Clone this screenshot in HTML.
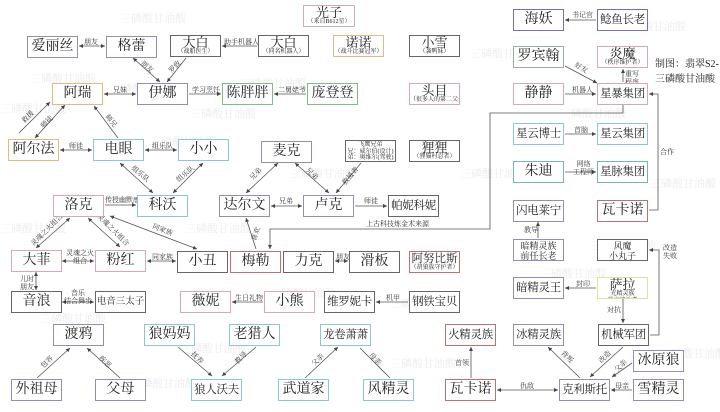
<!DOCTYPE html>
<html><head><meta charset="utf-8">
<style>
body{margin:0;width:720px;height:412px;background:#fff;position:relative;overflow:hidden;font-family:"Liberation Serif","Noto Serif CJK SC","Noto Sans CJK SC",serif;}
.n{position:absolute;box-sizing:border-box;height:22px;width:51px;border:1px solid #777;background:#fff;text-align:center;font-size:14px;line-height:20px;color:#222;white-space:nowrap;overflow:hidden}
.f4{font-size:11.5px;letter-spacing:-0.3px}
.s{line-height:12px;font-size:13px;padding-top:1px}
.s i{display:block;font-style:normal;font-size:6px;line-height:7px}
.t{line-height:10px;font-size:9px;padding-top:1px}
.l{position:absolute;font-size:7px;color:#333;white-space:nowrap;line-height:8px;text-align:center}
.w{position:absolute;font-size:11px;color:#ececec;white-space:nowrap}
svg{position:absolute;left:0;top:0}
.pk{border-color:#d8a8b8}.pu{border-color:#9a8ab8}.gr{border-color:#666}.cy{border-color:#8cc8d0}.gn{border-color:#7cc07c}.or{border-color:#e8b880}.rd{border-color:#c07070}.bl{border-color:#7070c0}.tl{border-color:#70b8b0}.yl{border-color:#e0e0a0}
</style></head><body>
<div class="w" style="left:120px;top:10px">三磷酸甘油酸</div>
<div class="w" style="left:30px;top:70px">三磷酸甘油酸</div>
<div class="w" style="left:240px;top:75px">三磷酸甘油酸</div>
<div class="w" style="left:190px;top:105px">三磷酸甘油酸</div>
<div class="w" style="left:150px;top:133px">三磷酸甘油酸</div>
<div class="w" style="left:290px;top:165px">三磷酸甘油酸</div>
<div class="w" style="left:110px;top:80px">三磷酸甘油酸</div>
<div class="w" style="left:0px;top:100px">三磷酸甘油酸</div>
<div class="w" style="left:50px;top:190px">三磷酸甘油酸</div>
<div class="w" style="left:0px;top:220px">三磷酸甘油酸</div>
<div class="w" style="left:40px;top:310px">三磷酸甘油酸</div>
<div class="w" style="left:185px;top:220px">三磷酸甘油酸</div>
<div class="w" style="left:270px;top:285px">三磷酸甘油酸</div>
<div class="w" style="left:180px;top:340px">三磷酸甘油酸</div>
<div class="w" style="left:130px;top:375px">三磷酸甘油酸</div>
<div class="w" style="left:470px;top:45px">三磷酸甘油酸</div>
<div class="w" style="left:560px;top:105px">三磷酸甘油酸</div>
<div class="w" style="left:460px;top:165px">三磷酸甘油酸</div>
<div class="w" style="left:540px;top:265px">三磷酸甘油酸</div>
<div class="w" style="left:590px;top:237px">三磷酸甘油酸</div>
<div class="w" style="left:650px;top:175px">三磷酸甘油酸</div>
<div class="w" style="left:390px;top:295px">三磷酸甘油酸</div>
<div class="w" style="left:390px;top:355px">三磷酸甘油酸</div>
<div class="w" style="left:660px;top:345px">三磷酸甘油酸</div>
<div class="w" style="left:620px;top:18px">三磷酸甘油酸</div>

<svg width="720" height="412" viewBox="0 0 720 412">
<defs><marker id="a" markerWidth="6" markerHeight="6" refX="5" refY="3" orient="auto"><path d="M0,0.5 L5,3 L0,5.5z" fill="#444"/></marker>
<marker id="b" markerWidth="6" markerHeight="6" refX="1" refY="3" orient="auto"><path d="M6,0.5 L1,3 L6,5.5z" fill="#444"/></marker></defs>
<g stroke="#555" stroke-width="0.8" fill="none" marker-end="url(#a)">
<path d="M79,46H105" marker-start="url(#b)"/>
<path d="M257,46H222"/>
<path d="M133,58L160,82" marker-start="url(#b)"/>
<path d="M186,58L167,82"/>
<path d="M104,94H136" marker-start="url(#b)"/>
<path d="M189,94H221"/>
<path d="M306,94H274"/>
<path d="M19,133L50,102"/>
<path d="M35,138L65,105" marker-start="url(#b)"/>
<path d="M118,138L94,106"/>
<path d="M60,150H92" marker-start="url(#b)"/>
<path d="M145,150H177" marker-start="url(#b)"/>
<path d="M120,163L153,193" marker-start="url(#b)"/>
<path d="M203,163L173,193" marker-start="url(#b)"/>
<path d="M105,205H136"/>
<path d="M278,163L246,193" marker-start="url(#b)"/>
<path d="M295,163L329,193" marker-start="url(#b)"/>
<path d="M361,163L336,193"/>
<path d="M271,206H302" marker-start="url(#b)"/>
<path d="M355,206H387"/>
<path d="M256,249L246,218"/>
<path d="M623,105V113H490V229H270V249"/>
<path d="M70,218L36,248" marker-start="url(#b)"/>
<path d="M88,218L120,247" marker-start="url(#b)"/>
<path d="M110,216L197,249" marker-start="url(#b)"/>
<path d="M62,261H94" marker-start="url(#b)"/>
<path d="M147,261H176" marker-start="url(#b)"/>
<path d="M36,272V290" marker-start="url(#b)"/>
<path d="M62,302H94" marker-start="url(#b)"/>
<path d="M335,261H348" marker-start="url(#b)"/>
<path d="M263,302H232"/>
<path d="M408,302H376"/>
<path d="M37,378L70,348"/>
<path d="M120,378L87,348"/>
<path d="M178,347L212,376"/>
<path d="M256,347L222,376"/>
<path d="M305,378L338,347"/>
<path d="M390,378L360,348" marker-end="none"/>
<path d="M471,378V347"/>
<path d="M497,390H558" marker-start="url(#b)"/>
<path d="M580,378L548,347"/>
<path d="M623,347L590,377"/>
<path d="M632,363L612,377"/>
<path d="M632,390H611"/>
<path d="M596,288H565"/>
<path d="M623,299V323"/>
<path d="M650,335H659V250H649"/>
<path d="M538,238V222"/>
<path d="M596,20H565"/>
<path d="M565,66L597,83"/>
<path d="M623,82V69"/>
<path d="M565,94H596"/>
<path d="M565,134H596"/>
<path d="M565,172H596"/>
<path d="M649,210H658V94H649"/>
</g></svg>

<div class="l" style="left:84px;top:38px">朋友</div>
<div class="l" style="left:224px;top:38px">助手机器人</div>
<div class="l" style="left:140px;top:63px;transform:rotate(40deg)">朋友</div>
<div class="l" style="left:168px;top:63px;transform:rotate(-45deg)">罗致</div>
<div class="l" style="left:113px;top:86px">兄妹</div>
<div class="l" style="left:192px;top:86px">学习烹饪</div>
<div class="l" style="left:278px;top:86px">二舅姥爷</div>
<div class="l" style="left:21px;top:113px;transform:rotate(-45deg)">救援</div>
<div class="l" style="left:40px;top:118px;transform:rotate(-45deg)">师徒</div>
<div class="l" style="left:104px;top:117px;transform:rotate(50deg)">师兄</div>
<div class="l" style="left:69px;top:142px">师徒</div>
<div class="l" style="left:152px;top:142px">组乐队</div>
<div class="l" style="left:130px;top:170px;transform:rotate(40deg)">组乐队</div>
<div class="l" style="left:175px;top:170px;transform:rotate(-40deg)">组乐队</div>
<div class="l" style="left:105px;top:196px">传授幽默感</div>
<div class="l" style="left:249px;top:170px;transform:rotate(-45deg)">兄弟</div>
<div class="l" style="left:305px;top:170px;transform:rotate(45deg)">兄弟</div>
<div class="l" style="left:340px;top:172px;transform:rotate(-50deg)">救援者</div>
<div class="l" style="left:279px;top:197px">兄弟</div>
<div class="l" style="left:364px;top:197px">师徒</div>
<div class="l" style="left:249px;top:230px;transform:rotate(-70deg)">喜欢</div>
<div class="l" style="left:366px;top:220px">上古科技炼金术来源</div>
<div class="l" style="left:26px;top:226px;transform:rotate(-45deg)">灵魂之火组合</div>
<div class="l" style="left:92px;top:226px;transform:rotate(45deg)">灵魂之火组合</div>
<div class="l" style="left:152px;top:226px;transform:rotate(22deg)">同家族</div>
<div class="l" style="left:66px;top:249px">灵魂之火<br>组合</div>
<div class="l" style="left:152px;top:253px">同家族</div>
<div class="l" style="left:20px;top:275px">儿时<br>朋友</div>
<div class="l" style="left:64px;top:289px">音乐<br>结合舞步</div>
<div class="l" style="left:336px;top:253px">朋友</div>
<div class="l" style="left:235px;top:294px">生日礼物</div>
<div class="l" style="left:386px;top:294px">机甲</div>
<div class="l" style="left:40px;top:358px;transform:rotate(-45deg)">包容</div>
<div class="l" style="left:98px;top:358px;transform:rotate(45deg)">疾恶</div>
<div class="l" style="left:190px;top:354px;transform:rotate(45deg)">抚养</div>
<div class="l" style="left:234px;top:354px;transform:rotate(-45deg)">教导</div>
<div class="l" style="left:311px;top:356px;transform:rotate(-45deg)">父亲</div>
<div class="l" style="left:368px;top:355px;transform:rotate(45deg)">母亲</div>
<div class="l" style="left:455px;top:359px">首领</div>
<div class="l" style="left:520px;top:382px">仇敌</div>
<div class="l" style="left:560px;top:353px;transform:rotate(45deg)">背叛</div>
<div class="l" style="left:598px;top:353px;transform:rotate(-45deg)">改造</div>
<div class="l" style="left:614px;top:362px;transform:rotate(-45deg)">父亲</div>
<div class="l" style="left:615px;top:382px">母亲</div>
<div class="l" style="left:576px;top:280px">封印</div>
<div class="l" style="left:607px;top:306px">对抗</div>
<div class="l" style="left:663px;top:244px">改造<br>失败</div>
<div class="l" style="left:524px;top:226px">教导</div>
<div class="l" style="left:572px;top:11px">书记官</div>
<div class="l" style="left:574px;top:64px;transform:rotate(30deg)">好友</div>
<div class="l" style="left:625px;top:70px">重写<br>程序</div>
<div class="l" style="left:572px;top:86px">机器人</div>
<div class="l" style="left:574px;top:126px">首脑</div>
<div class="l" style="left:573px;top:160px">网络<br>工程师</div>
<div class="l" style="left:660px;top:148px">合作</div>
<div style="position:absolute;left:655px;top:57px;font-size:10px;line-height:15px;color:#222;white-space:nowrap">制图：翡翠S2-<br>三磷酸甘油酸</div>

<div class="n s pk" style="left:303px;top:5px;width:52px">光子<i>（来自B612星）</i></div>
<div class="n pu" style="left:27px;top:36px">爱丽丝</div>
<div class="n pu" style="left:106px;top:36px">格蕾</div>
<div class="n s gr" style="left:170px;top:35px">大白<i>（战船医生）</i></div>
<div class="n s gr" style="left:258px;top:35px">大白<i>（同名机器人）</i></div>
<div class="n s or" style="left:333px;top:35px">诺诺<i>（战斗比赛冠军）</i></div>
<div class="n s gr" style="left:409px;top:35px">小雪<i>（袭鸭妹）</i></div>
<div class="n or" style="left:52px;top:83px">阿瑞</div>
<div class="n pu" style="left:137px;top:83px">伊娜</div>
<div class="n gn" style="left:222px;top:83px">陈胖胖</div>
<div class="n gn" style="left:307px;top:83px">庞登登</div>
<div class="n s pk" style="left:409px;top:83px">头目<i>（很多人的第二父亲）</i></div>
<div class="n or" style="left:8px;top:139px">阿尔法</div>
<div class="n cy" style="left:93px;top:139px">电眼</div>
<div class="n cy" style="left:178px;top:139px">小小</div>
<div class="n pu" style="left:261px;top:141px">麦克</div>
<div class="n gr" style="left:345px;top:140px;font-size:6px;line-height:6.5px;padding-top:1px">飞鹰兄弟<br>兄：威尔伯(设计)<br>弟：奥维尔(驾驶)</div>
<div class="n s gr" style="left:409px;top:140px">狸狸<i>（狸猫村忍者）</i></div>
<div class="n pk" style="left:53px;top:195px">洛克</div>
<div class="n cy" style="left:137px;top:195px">科沃</div>
<div class="n pu" style="left:219px;top:195px">达尔文</div>
<div class="n pu" style="left:303px;top:195px">卢克</div>
<div class="n gr f4" style="left:388px;top:195px">帕妮科妮</div>
<div class="n pk" style="left:11px;top:250px">大菲</div>
<div class="n pk" style="left:95px;top:250px">粉红</div>
<div class="n gr" style="left:177px;top:251px">小丑</div>
<div class="n rd" style="left:230px;top:251px">梅勒</div>
<div class="n gr" style="left:283px;top:251px">力克</div>
<div class="n gr" style="left:349px;top:251px">滑板</div>
<div class="n s rd" style="left:409px;top:251px;font-size:11.5px">阿努比斯<i>（胡狼族守护者）</i></div>
<div class="n gr" style="left:11px;top:291px">音浪</div>
<div class="n gr" style="left:95px;top:291px;font-size:9.5px">电音三太子</div>
<div class="n pk" style="left:180px;top:291px">薇妮</div>
<div class="n pk" style="left:264px;top:291px">小熊</div>
<div class="n gr f4" style="left:324px;top:291px">维罗妮卡</div>
<div class="n gr f4" style="left:409px;top:291px">钢铁宝贝</div>
<div class="n pu" style="left:53px;top:324px">渡鸦</div>
<div class="n cy" style="left:144px;top:324px">狼妈妈</div>
<div class="n cy" style="left:229px;top:324px">老猎人</div>
<div class="n cy f4" style="left:320px;top:324px">龙卷萧萧</div>
<div class="n rd f4" style="left:445px;top:324px">火精灵族</div>
<div class="n pu f4" style="left:513px;top:324px">冰精灵族</div>
<div class="n gr f4" style="left:598px;top:324px">机械军团</div>
<div class="n pu" style="left:633px;top:350px">冰原狼</div>
<div class="n pu" style="left:11px;top:379px">外祖母</div>
<div class="n pu" style="left:95px;top:379px">父母</div>
<div class="n cy f4" style="left:191px;top:379px">狼人沃夫</div>
<div class="n cy" style="left:278px;top:379px">武道家</div>
<div class="n cy" style="left:363px;top:379px">风精灵</div>
<div class="n rd" style="left:445px;top:379px">瓦卡诺</div>
<div class="n pu f4" style="left:559px;top:379px">克利斯托</div>
<div class="n pu" style="left:633px;top:379px">雪精灵</div>
<div class="n bl" style="left:513px;top:9px">海妖</div>
<div class="n bl f4" style="left:597px;top:9px">鲶鱼长老</div>
<div class="n gr" style="left:513px;top:46px;border-color:#9ab09a">罗宾翰</div>
<div class="n s pk" style="left:597px;top:46px">炎魔<i>（秩序维护者）</i></div>
<div class="n pk" style="left:513px;top:83px">静静</div>
<div class="n pk f4" style="left:597px;top:83px">星暴集团</div>
<div class="n cy f4" style="left:513px;top:123px">星云博士</div>
<div class="n cy f4" style="left:597px;top:123px">星云集团</div>
<div class="n tl" style="left:513px;top:161px">朱迪</div>
<div class="n tl f4" style="left:597px;top:161px">星脉集团</div>
<div class="n pu f4" style="left:513px;top:200px">闪电莱宁</div>
<div class="n rd" style="left:597px;top:200px">瓦卡诺</div>
<div class="n pu t" style="left:513px;top:239px">暗精灵族<br>前任长老</div>
<div class="n gr t" style="left:597px;top:239px">风魔<br>小丸子</div>
<div class="n pu f4" style="left:513px;top:277px">暗精灵王</div>
<div class="n s yl" style="left:597px;top:277px">萨拉<i>光精灵族<br>最高统治者</i></div>
</body></html>
